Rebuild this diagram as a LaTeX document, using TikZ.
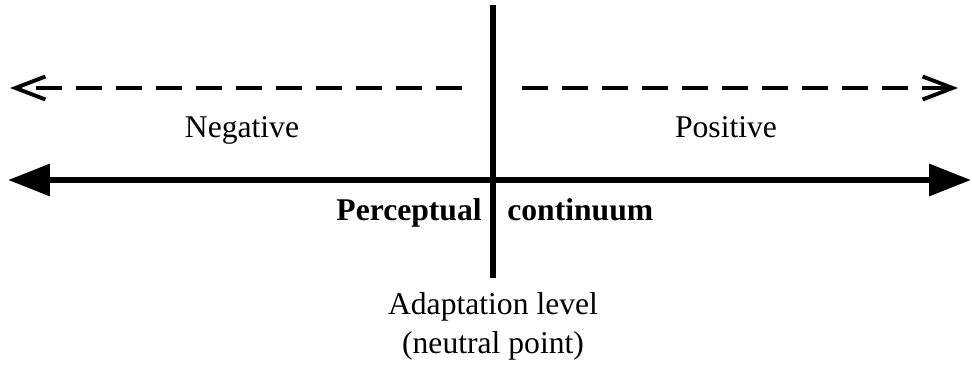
\documentclass[tikz,border=0pt]{standalone}
\usepackage{fontspec}
\setmainfont{Liberation Serif}
\usepackage{tikz}
\usetikzlibrary{positioning,arrows.meta}

\begin{document}
\begin{tikzpicture}[
    x=0.02cm, y=-0.02cm,
    lbl/.style={inner sep=0pt, font=\fontsize{18}{22}\selectfont, align=center},
    dasharr/.style={-{Straight Barb[length=0.6cm, width=0.46cm, line width=2.2pt]},
                    line width=2.2pt, dash pattern=on 0.52cm off 0.28cm},
    solidarr/.style={{Triangle[length=0.84cm, width=0.62cm]}-{Triangle[length=0.84cm, width=0.62cm]},
                     line width=3.6pt},
  ]
  \useasboundingbox (0,0) rectangle (972,371);
  % End points of the lines
  \coordinate (negtip) at (10,88);
  \coordinate (negstart) at (462,88);
  \coordinate (posstart) at (522,88);
  \coordinate (postip) at (958,88);
  \coordinate (contL) at (8,180);
  \coordinate (contR) at (971,180);
  \coordinate (adtop) at (493,5);
  \coordinate (adbot) at (493,278);
  % Labels
  \node[lbl, anchor=base] (neg) at (242,138) {Negative};
  \node[lbl, anchor=base] (pos) at (726,138) {Positive};
  \node[lbl, anchor=base east, font=\fontsize{18}{22}\selectfont\bfseries]
        (perc) at (482,220) {Perceptual};
  \node[lbl, anchor=base west, font=\fontsize{18}{22}\selectfont\bfseries]
        (cont) at (507,220) {continuum};
  \node[lbl, anchor=base] (adapt) at (493,353) {Adaptation level\\(neutral point)};

  \draw[dasharr] (negstart) -- (negtip);
  \draw[dasharr] (posstart) -- (postip);
  \draw[solidarr] (contL) -- (contR);
  \draw[line width=3.6pt] (adtop) -- (adbot);
\end{tikzpicture}
\end{document}
